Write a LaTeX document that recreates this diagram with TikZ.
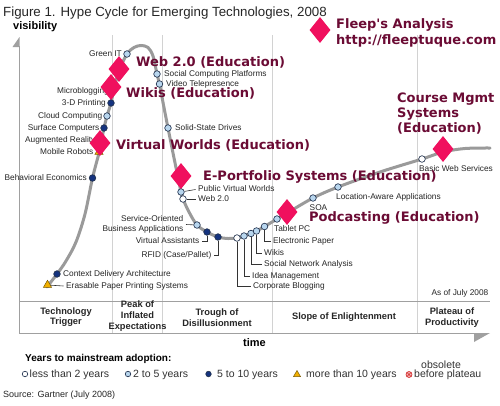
\documentclass[tikz,border=0pt]{standalone}
\usepackage{fontspec}
\setmainfont{Liberation Sans}
\newfontfamily\edufont{DejaVu Sans}
\usetikzlibrary{shapes.geometric}
\definecolor{curvegray}{HTML}{9A9A9A}
\definecolor{gridgray}{HTML}{D2D2D2}
\definecolor{axisgray}{HTML}{A0A0A0}
\definecolor{ltblue}{HTML}{B8D6EE}
\definecolor{dkblue}{HTML}{15337F}
\definecolor{dotline}{HTML}{22324E}
\definecolor{trifill}{HTML}{F2B000}
\definecolor{triline}{HTML}{7A5A00}
\definecolor{pinkd}{HTML}{F0105E}
\definecolor{maroon}{HTML}{6B0B34}
\definecolor{obsfill}{HTML}{F6B4B4}
\definecolor{obsline}{HTML}{D02828}
\tikzset{
  grid line/.style={draw=gridgray, line width=0.8pt},
  axis line/.style={draw=axisgray, line width=1pt},
  hype/.style={draw=curvegray, line width=3pt, line cap=round},
  dotbase/.style={circle, draw=dotline, line width=0.65pt, minimum size=6.6pt, inner sep=0pt},
  ltb/.style={dotbase, fill=ltblue},
  dkb/.style={dotbase, fill=dkblue},
  wht/.style={dotbase, fill=white},
  tri/.style={regular polygon, regular polygon sides=3, fill=trifill, draw=triline, line width=0.5pt, minimum size=9.5pt, inner sep=0pt},
  dia/.style={diamond, fill=pinkd, minimum width=21pt, minimum height=26pt, inner sep=0pt},
  labbase/.style={font=\fontsize{8.3}{9.5}\selectfont, inner sep=0pt, text=black!85},
  lab/.style={labbase, text height=6pt, text depth=1.7pt},
  lead/.style={draw=black!80, line width=0.6pt},
  edu/.style={font=\edufont\bfseries\fontsize{13}{15}\selectfont, text=maroon, inner sep=0pt, align=left},
  phase/.style={font=\bfseries\fontsize{9.3}{10.6}\selectfont, inner sep=0pt, align=center, text=black!85},
  legt/.style={font=\fontsize{10.5}{12}\selectfont, inner sep=0pt, text=black!80},
}
\begin{document}
\begin{tikzpicture}[x=1pt,y=-1pt]
\useasboundingbox (0,0) rectangle (500,405);
\fill[white] (0,0) rectangle (500,405);

% title and axis titles
\node[font=\fontsize{13.3}{15}\selectfont, inner sep=0pt, anchor=base west, text=black!85] (title) at (3,16) {Figure 1. Hype Cycle for Emerging Technologies, 2008};
\node[font=\bfseries\fontsize{11}{13}\selectfont, inner sep=0pt, anchor=base west] (vis) at (13,29) {visibility};

% phase grid lines
\foreach \gx in {112.5,162.5,272,417} \draw[grid line] (\gx,35) -- (\gx,333.5);

% axes and phase strip
\draw[axis line] (19,46) -- (19,333.5) -- (475,333.5);
\draw[axis line] (19,301) -- (490,301);
\fill[axisgray] (19.5,37) -- (19.5,47) -- (12.5,47) -- cycle;
\fill[axisgray] (474,333) -- (490,333) -- (474,342) -- cycle;

% hype curve
\draw[hype] plot[smooth, tension=0.55] coordinates {
 (47,287) (57,274) (66,261) (76,242) (85,214) (92.5,178) (99,153) (101.5,141)
 (104,128) (107,116) (111,103) (114,89) (119,71) (127,54) (134,47.5) (141,45.5)
 (148,47.5) (153,56) (157,74) (159.5,84) (163.5,105) (168,128) (173,153)
 (177.5,175) (181,192) (183,199) (189,212) (197,225) (207,232) (218,237)
 (228,238.5) (237,238) (244,236) (251,233.5) (256.5,231) (264.5,226.5)
 (277,219) (288,212.5) (313,198) (338,187) (380,172) (422,159) (443,152)
 (465,148.5) (490,148)};

% technology markers
\node[tri] (eps) at (47.5,285) {};
\node[dkb] (cda) at (57,274) {};
\node[dkb] (be) at (92.5,178) {};
\node[tri] (mr) at (99,152) {};
\node[dkb] (sc) at (104,128) {};
\node[ltb] (cc) at (107,116) {};
\node[dkb] (tdp) at (111,103) {};
\node[ltb] (gi) at (127,54) {};
\node[ltb] (scp) at (157,74) {};
\node[ltb] (vt) at (159.5,84) {};
\node[ltb] (ssd) at (168,128) {};
\node[ltb] (pvw) at (181,192) {};
\node[wht] (web) at (183,199) {};
\node[ltb] (soba) at (197,225) {};
\node[dkb] (va) at (207,232) {};
\node[dkb] (rfid) at (218,237) {};
\node[wht] (cb) at (237,238) {};
\node[ltb] (im) at (244,236) {};
\node[ltb] (sna) at (251,233.5) {};
\node[ltb] (wk) at (256.5,231) {};
\node[ltb] (ep) at (264.5,226.5) {};
\node[ltb] (tpc) at (277,219) {};
\node[ltb] (soa) at (313,198) {};
\node[ltb] (laa) at (338,187) {};
\node[wht] (bws) at (422,159) {};

% labels
\node[lab, anchor=east] (gil) at (122,54) {Green IT};
\node[lab, anchor=east] (mbl) at (109,91) {Microblogging};
\node[lab, anchor=east] (tdpl) at (106,103) {3-D Printing};
\node[lab, anchor=east] (ccl) at (102.5,116) {Cloud Computing};
\node[lab, anchor=east] (scl) at (99.5,128) {Surface Computers};
\node[lab, anchor=west] (arl) at (25,140) {Augmented Reality};
\node[lab, anchor=east] (mrl) at (93.5,152.5) {Mobile Robots};
\node[lab, anchor=east] (bel) at (87,178) {Behavioral Economics};
\node[lab, anchor=west] (cdal) at (63,274) {Context Delivery Architecture};
\node[lab, anchor=west] (epsl) at (66,286) {Erasable Paper Printing Systems};
\node[lab, anchor=west] (scpl) at (164,74) {Social Computing Platforms};
\node[lab, anchor=west] (vtl) at (166,84) {Video Telepresence};
\node[lab, anchor=west] (ssdl) at (175,128) {Solid-State Drives};
\node[lab, anchor=west] (pvwl) at (198,189.5) {Public Virtual Worlds};
\node[lab, anchor=west] (webl) at (198,199) {Web 2.0};
\node[labbase, anchor=east, align=right] (sobal) at (183.5,224.5) {Service-Oriented\\Business Applications};
\node[lab, anchor=east] (val) at (199.5,241.5) {Virtual Assistants};
\node[lab, anchor=east] (rfidl) at (211.5,255) {RFID (Case/Pallet)};
\node[lab, anchor=west] (tpcl) at (274,229) {Tablet PC};
\node[lab, anchor=west] (epl) at (273,241) {Electronic Paper};
\node[lab, anchor=west] (wkl) at (264,253) {Wikis};
\node[lab, anchor=west] (snal) at (264,264) {Social Network Analysis};
\node[lab, anchor=west] (iml) at (252,276) {Idea Management};
\node[lab, anchor=west] (cbl) at (253,286) {Corporate Blogging};
\node[lab] (soal) at (318.5,208) {SOA};
\node[lab, anchor=west] (laal) at (336,197.5) {Location-Aware Applications};
\node[lab, anchor=west] (bwsl) at (419,169) {Basic Web Services};
\node[lab, anchor=east] (asof) at (488.5,293) {As of July 2008};

% leader lines
\draw[lead] (eps) -- ([xshift=-2.5pt]epsl.west);
\draw[lead] (pvw) -- ([xshift=-2.5pt]pvwl.west);
\draw[lead] (web) -- ([xshift=-2.5pt]webl.west);
\draw[lead] (soba) -- ([xshift=2.5pt]sobal.east);
\draw[lead] (va) |- ([xshift=2.5pt]val.east);
\draw[lead] (rfid) |- ([xshift=2.5pt]rfidl.east);
\draw[lead] (ep) |- ([xshift=-2.5pt]epl.west);
\draw[lead] (wk) |- ([xshift=-2.5pt]wkl.west);
\draw[lead] (sna) |- ([xshift=-2.5pt]snal.west);
\draw[lead] (im) |- ([xshift=-2.5pt]iml.west);
\draw[lead] (cb) |- ([xshift=-2.5pt]cbl.west);

% pink diamonds
\node[dia] (dfl) at (320,30) {};
\node[dia] (dweb) at (119,69) {};
\node[dia] (dwik) at (111,87) {};
\node[dia] (dvw) at (100,143) {};
\node[dia] (dep) at (181,176) {};
\node[dia] (dpod) at (287,212) {};
\node[dia] (dcms) at (443,149) {};

% education labels
\node[edu, anchor=west, font=\edufont\bfseries\fontsize{13}{15.7}\selectfont] (fleep) at (336,33) {Fleep's Analysis\\http://fleeptuque.com};
\node[edu, anchor=base west] (eweb) at (136,66) {Web 2.0 (Education)};
\node[edu, anchor=base west] (ewik) at (126,97.7) {Wikis (Education)};
\node[edu, anchor=base west] (evw) at (116,149) {Virtual Worlds (Education)};
\node[edu, anchor=base west] (eep) at (203,180) {E-Portfolio Systems (Education)};
\node[edu, anchor=base west] (epod) at (309,221.7) {Podcasting (Education)};
\node[edu, anchor=west] (ecms) at (397,113.3) {Course Mgmt\\Systems\\(Education)};

% phases
\node[phase] (p1) at (66,317) {Technology\\Trigger};
\node[phase] (p2) at (137.5,316) {Peak of\\Inflated\\Expectations};
\node[phase] (p3) at (217,317.5) {Trough of\\Disillusionment};
\node[phase] (p4) at (344,317) {Slope of Enlightenment};
\node[phase] (p5) at (452,317.5) {Plateau of\\Productivity};
\node[font=\bfseries\fontsize{11}{13}\selectfont, inner sep=0pt] (time) at (254.5,343) {time};

% legend
\node[font=\bfseries\fontsize{10}{12}\selectfont, inner sep=0pt, anchor=base west] (years) at (25,361.5) {Years to mainstream adoption:};
\node[wht, minimum size=5.5pt] (lg1) at (25,374) {};
\node[legt, anchor=base west] (lg1t) at (29.5,377.5) {less than 2 years};
\node[ltb, minimum size=5.5pt] (lg2) at (128,374) {};
\node[legt, anchor=base west] (lg2t) at (133,377.5) {2 to 5 years};
\node[dkb, minimum size=5.5pt] (lg3) at (208.5,374) {};
\node[legt, anchor=base west] (lg3t) at (217,377.5) {5 to 10 years};
\node[tri, minimum size=8pt] (lg4) at (297,374.5) {};
\node[legt, anchor=base west] (lg4t) at (306,377.5) {more than 10 years};
\node[circle, fill=obsfill, draw=obsline, line width=0.6pt, minimum size=6pt, inner sep=0pt] (lg5) at (409,374.5) {};
\draw[obsline, line width=0.6pt] (lg5.45) -- (lg5.225) (lg5.135) -- (lg5.315);
\node[legt, anchor=base west] (lg5a) at (421,368) {obsolete};
\node[legt, anchor=base west] (lg5t) at (414,377.5) {before plateau};

\node[font=\fontsize{9}{11}\selectfont, inner sep=0pt, anchor=base west, text=black!85] (src) at (3,397) {Source: Gartner (July 2008)};
\end{tikzpicture}
\end{document}
